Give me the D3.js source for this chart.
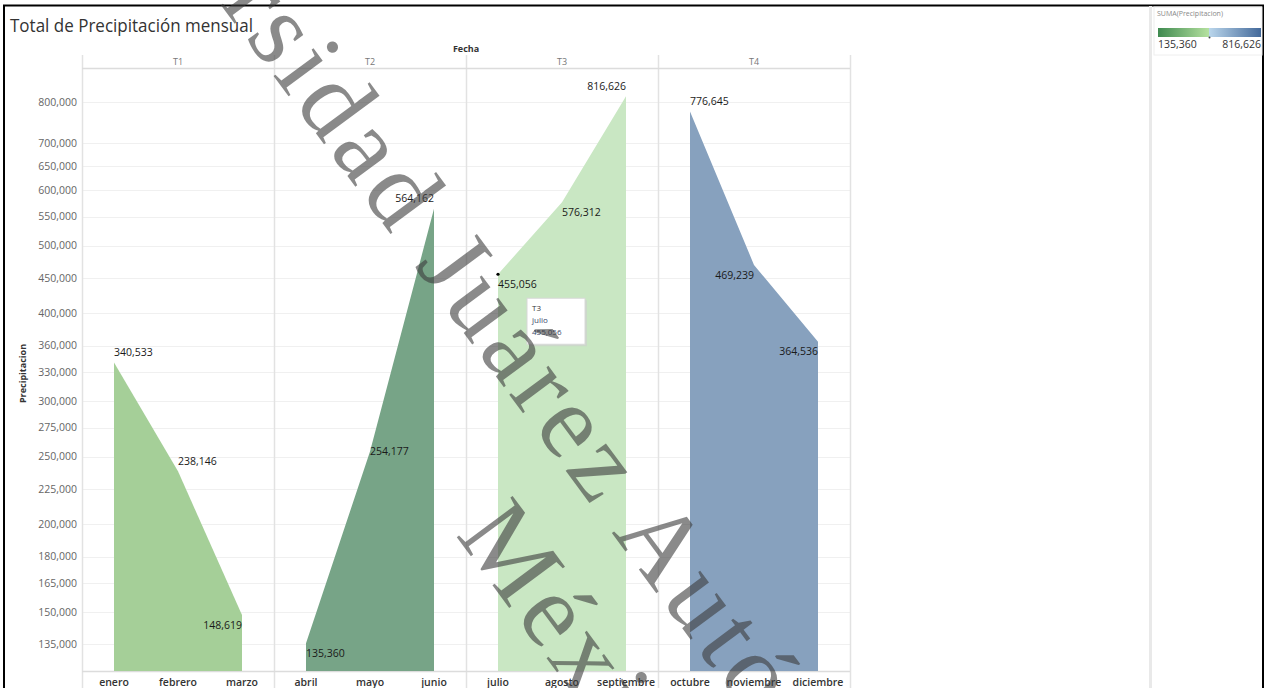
<!DOCTYPE html>
<html>
<head>
<meta charset="utf-8">
<script src="https://cdn.jsdelivr.net/npm/d3@7"></script>
<style>
  html, body { margin: 0; padding: 0; background: #fff; }
  svg { display: block; font-family: "Open Sans", "Noto Sans", sans-serif; }
  .wm text { font-family: "Liberation Serif", "DejaVu Serif", serif; letter-spacing: 5.8px; }
</style>
</head>
<body>
<svg id="chart" width="1267" height="688"></svg>
<script>
// Monthly precipitation totals, grouped by quarter
const quarters = ["T1", "T2", "T3", "T4"];
const months = [
  ["enero", "febrero", "marzo"],
  ["abril", "mayo", "junio"],
  ["julio", "agosto", "septiembre"],
  ["octubre", "noviembre", "diciembre"]
];
const precipitation = [
  [340533, 238146, 148619],
  [135360, 254177, 564162],
  [455056, 576312, 816626],
  [776645, 469239, 364536]
];
const yTicks = [135000, 150000, 165000, 180000, 200000, 225000, 250000, 275000,
  300000, 330000, 360000, 400000, 450000, 500000, 550000, 600000, 650000, 700000, 800000];
const quarterColors = ["#a5cf98", "#77a487", "#c9e7c3", "#87a1be"];
// where each mark label sits relative to its point
const labelAnchor = [["start", "start", "end"], ["start", "start", "end"], ["start", "start", "end"], ["start", "end", "end"]];
const labelSide = [["above", "above", "below"], ["below", "mid", "above"], ["below", "below", "above"], ["above", "below", "below"]];
const colorRange = [135360, 816626];

const fmt = d3.format(",");
const svg = d3.select("#chart");

const plot = { left: 82, right: 850, top: 68, bottom: 671 };
const panelW = (plot.right - plot.left) / quarters.length;

const y = d3.scaleLog().domain([123600, 896000]).range([plot.bottom, plot.top]);
const panelX = d3.scaleBand().domain(quarters).range([plot.left, plot.right]).padding(0);

// frame
svg.append("rect").attr("x", 4).attr("y", 5.5).attr("width", 1259).attr("height", 700)
  .attr("fill", "none").attr("stroke", "#000").attr("stroke-width", 2);
svg.append("rect").attr("x", 1149).attr("y", 6).attr("width", 3).attr("height", 682).attr("fill", "#e9e9e9");

// title
svg.append("text").attr("x", 10).attr("y", 32).text("Total de Precipitación mensual")
  .attr("font-size", 19).attr("fill", "#333").attr("textLength", 243).attr("lengthAdjust", "spacingAndGlyphs");

// horizontal grid
svg.append("g").selectAll("line").data(yTicks).join("line")
  .attr("x1", plot.left).attr("x2", plot.right)
  .attr("y1", d => Math.round(y(d)) + 0.5).attr("y2", d => Math.round(y(d)) + 0.5)
  .attr("stroke", "#f0f0f0");

// y axis labels
const yAxis = d3.axisLeft(y).tickValues(yTicks).tickFormat(fmt).tickSize(0).tickPadding(5);
const yg = svg.append("g").attr("transform", `translate(${plot.left},0)`).call(yAxis);
yg.select(".domain").remove();
yg.attr("font-family", null);
yg.selectAll("text").attr("font-size", 10.5).attr("fill", "#666");

svg.append("text").attr("transform", `translate(26,${(plot.top + plot.bottom) / 2 + 4}) rotate(-90)`)
  .attr("text-anchor", "middle").attr("font-size", 9).attr("font-weight", "bold").attr("fill", "#333")
  .text("Precipitacion");

// column header
svg.append("text").attr("x", (plot.left + plot.right) / 2).attr("y", 52).attr("text-anchor", "middle")
  .attr("font-size", 9).attr("font-weight", "bold").attr("fill", "#333").text("Fecha");

svg.append("g").selectAll("text").data(quarters).join("text")
  .attr("x", d => panelX(d) + panelW / 2).attr("y", 65).attr("text-anchor", "middle")
  .attr("font-size", 9).attr("fill", "#777").text(d => d);

// panel dividers
svg.append("g").selectAll("line").data(d3.range(quarters.length + 1)).join("line")
  .attr("x1", i => plot.left + i * panelW + 0.5).attr("x2", i => plot.left + i * panelW + 0.5)
  .attr("y1", 55).attr("y2", 688).attr("stroke", "#e2e2e2").attr("stroke-width", 1.5);
svg.append("line").attr("x1", plot.left).attr("x2", plot.right).attr("y1", plot.top + 0.5).attr("y2", plot.top + 0.5)
  .attr("stroke", "#dcdcdc").attr("stroke-width", 1.5);
svg.append("line").attr("x1", plot.left).attr("x2", plot.right).attr("y1", plot.bottom + 0.5).attr("y2", plot.bottom + 0.5)
  .attr("stroke", "#dcdcdc").attr("stroke-width", 1.5);

// areas, one per quarter
quarters.forEach((q, qi) => {
  const x = d3.scalePoint().domain(months[qi]).range([panelX(q), panelX(q) + panelW]).padding(0.5);
  const pts = months[qi].map((m, i) => ({ m, v: precipitation[qi][i], i }));
  const area = d3.area().x(d => x(d.m)).y0(plot.bottom).y1(d => y(d.v));
  svg.append("path").datum(pts).attr("d", area).attr("fill", quarterColors[qi]);

  // month labels
  svg.append("g").selectAll("text").data(pts).join("text")
    .attr("x", d => x(d.m)).attr("y", 686).attr("text-anchor", "middle")
    .attr("font-size", 10.5).attr("font-weight", 600).attr("fill", "#333").text(d => d.m);

  // value labels
  svg.append("g").selectAll("text").data(pts).join("text")
    .attr("x", d => x(d.m))
    .attr("y", d => y(d.v) + ({ above: -10, below: 10, mid: 0 })[labelSide[qi][d.i]])
    .attr("dy", "0.35em")
    .attr("text-anchor", d => labelAnchor[qi][d.i])
    .attr("font-size", 10.5).attr("fill", "#1a1a1a").text(d => fmt(d.v));

  if (q === "T3") {
    const p = pts[0];
    const px = x(p.m), py = y(p.v);
    svg.append("circle").attr("cx", px).attr("cy", py).attr("r", 1.6).attr("fill", "#000");
    const tip = svg.append("g").attr("transform", `translate(${px + 29},${py + 24})`);
    tip.append("rect").attr("x", 2).attr("y", 2).attr("width", 58).attr("height", 46).attr("fill", "#cfcfcf").attr("opacity", 0.6);
    tip.append("rect").attr("width", 58).attr("height", 46).attr("fill", "#fff").attr("stroke", "#d8d8d8");
    const lines = [q, p.m, fmt(p.v)];
    tip.selectAll("text").data(lines).join("text")
      .attr("x", 5).attr("y", (d, i) => 13 + i * 12)
      .attr("font-size", 8).attr("fill", (d, i) => i === 0 ? "#333" : "#3b4a6b").text(d => d);
  }
});

// colour legend
const legend = svg.append("g");
legend.append("rect").attr("x", 1154).attr("y", 7).attr("width", 108).attr("height", 48)
  .attr("fill", "#fff").attr("stroke", "#eeeeee");
legend.append("text").attr("x", 1157).attr("y", 16).attr("font-size", 7).attr("fill", "#888")
  .text("SUMA(Precipitacion)");
const defs = svg.append("defs");
const grad = defs.append("linearGradient").attr("id", "ramp");
[[0, "#3f8a50"], [0.5, "#b6e2a0"], [0.5, "#b9d5eb"], [1, "#43699a"]].forEach(([o, c]) =>
  grad.append("stop").attr("offset", o).attr("stop-color", c));
const lx = d3.scaleLinear().domain(colorRange).range([1158, 1261]);
legend.append("rect").attr("x", lx(colorRange[0])).attr("y", 28).attr("width", lx(colorRange[1]) - lx(colorRange[0]))
  .attr("height", 9).attr("fill", "url(#ramp)");
legend.append("circle").attr("cx", (lx(colorRange[0]) + lx(colorRange[1])) / 2).attr("cy", 37.5).attr("r", 1).attr("fill", "#444");
legend.append("text").attr("x", lx(colorRange[0])).attr("y", 48).attr("font-size", 10.5).attr("fill", "#333").text(fmt(colorRange[0]));
legend.append("text").attr("x", lx(colorRange[1])).attr("y", 48).attr("text-anchor", "end").attr("font-size", 10.5).attr("fill", "#333").text(fmt(colorRange[1]));

// institutional watermark
const wm = svg.append("g").attr("class", "wm").attr("transform", "translate(413.7,265.4) rotate(53.5)")
  .attr("font-size", 106).attr("fill", "rgba(60,60,60,0.6)");
wm.append("text").attr("x", -32).attr("text-anchor", "end").text("Universidad");
wm.append("text").attr("x", 0).text("Juárez Autónoma de Tabasco");
wm.append("text").attr("x", 241).attr("y", 127).text("México");
</script>
</body>
</html>
